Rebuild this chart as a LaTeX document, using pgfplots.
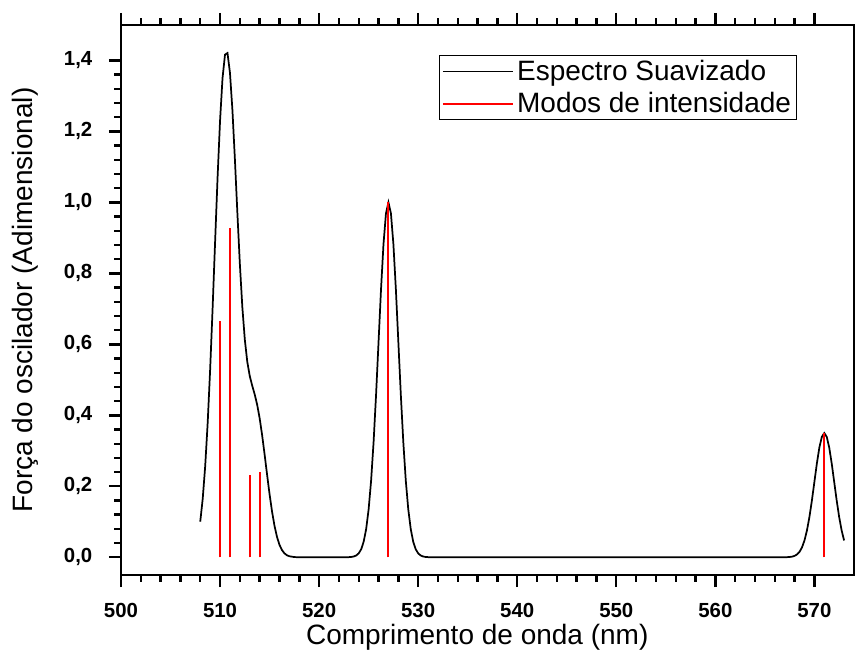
\documentclass[border=0pt]{standalone}
\usepackage{pgfplots}
\pgfplotsset{compat=1.18}
\usepackage{fontspec}
\setmainfont{Liberation Sans}
\begin{document}
\begin{tikzpicture}
\path[use as bounding box] (-90.75pt,-63.75pt) rectangle (550.5pt,431.25pt);
\begin{axis}[
  at={(0pt,0pt)}, anchor=south west,
  scale only axis, width=549.75pt, height=412.5pt,
  xmin=500, xmax=574, ymin=-0.05, ymax=1.5,
  xtick={500,510,520,530,540,550,560,570}, minor x tick num=4,
  ytick={0,0.2,0.4,0.6,0.8,1.0,1.2,1.4}, minor y tick num=4,
  tick align=outside,
  major tick length=9pt, minor tick length=5pt,
  axis line style={line width=1.6pt},
  every tick/.append style={black, line width=1.8pt},
  /pgf/number format/assume math mode=true,
  ticklabel style={font=\bfseries\fontsize{15.3pt}{17pt}\selectfont},
  yticklabel style={/pgf/number format/.cd, use comma, fixed, fixed zerofill, precision=1, /tikz/.cd, xshift=-9pt},
  xticklabel style={/pgf/number format/.cd, set thousands separator={}, /tikz/.cd, yshift=-9pt},
  xlabel={Comprimento de onda (nm)},
  ylabel={Força do oscilador (Adimensional)},
  every axis x label/.style={at={(axis description cs:0.486,-0.114)}, anchor=center,
    font=\fontsize{21pt}{24pt}\selectfont},
  every axis y label/.style={at={(axis description cs:-0.131,0.5)}, rotate=90, anchor=center,
    font=\fontsize{21pt}{24pt}\selectfont},
  legend style={at={(rel axis cs:0.922,0.945)}, anchor=north east, draw=black, line width=0.6pt,
    font=\fontsize{21pt}{24pt}\selectfont, inner xsep=2pt, inner ysep=1.5pt, row sep=3.5pt,
    /tikz/every odd column/.append style={column sep=0pt}},
  legend cell align=left,
]
\addplot[black, line width=1.3pt, no markers,
  legend image code/.code={\path (-7pt,0pt) -- (46pt,0pt); \draw[black,line width=1.3pt] (0pt,0pt) -- (46pt,0pt);}]
  coordinates {
(508,0.1003) (508.25,0.1650) (508.5,0.2567) (508.75,0.3783) (509,0.5290)
(509.25,0.7029) (509.5,0.8887) (509.75,1.0706) (510,1.2305) (510.25,1.3505)
(510.5,1.4165) (510.75,1.4211) (511,1.3654) (511.25,1.2596) (511.5,1.1207)
(511.75,0.9696) (512,0.8261) (512.25,0.7048) (512.5,0.6132) (512.75,0.5506)
(513,0.5106) (513.25,0.4832) (513.5,0.4588) (513.75,0.4295) (514,0.3913)
(514.25,0.3436) (514.5,0.2892) (514.75,0.2322) (515,0.1773) (515.25,0.1285)
(515.5,0.0882) (515.75,0.0572) (516,0.0351) (516.25,0.0203) (516.5,0.0111)
(516.75,0.0057) (517,0.0028) (517.5,0.0005) (518,0.0001) (519,0) (520,0) (521,0)
(522,0) (522.5,0.00004) (523,0.00034) (523.25,0.00088) (523.5,0.00219)
(523.75,0.00509) (524,0.01111) (524.25,0.02279) (524.5,0.04394) (524.75,0.07956)
(525,0.13534) (525.25,0.21627) (525.5,0.32465) (525.75,0.45783) (526,0.60653)
(526.25,0.75484) (526.5,0.88250) (526.75,0.96923) (527,1.0)
(527.25,0.96923) (527.5,0.88250) (527.75,0.75484) (528,0.60653) (528.25,0.45783)
(528.5,0.32465) (528.75,0.21627) (529,0.13534) (529.25,0.07956) (529.5,0.04394)
(529.75,0.02279) (530,0.01111) (530.25,0.00509) (530.5,0.00219) (530.75,0.00088)
(531,0.00034) (531.5,0.00004) (532,0) (540,0) (550,0) (560,0) (566,0)
(566.5,0.00001) (567,0.00012) (567.25,0.00031) (567.5,0.00077) (567.75,0.00178)
(568,0.00389) (568.25,0.00798) (568.5,0.01538) (568.75,0.02785) (569,0.04737)
(569.25,0.07569) (569.5,0.11363) (569.75,0.16024) (570,0.21229) (570.25,0.26419)
(570.5,0.30888) (570.75,0.33923) (571,0.35) (571.25,0.33923) (571.5,0.30888)
(571.75,0.26419) (572,0.21229) (572.25,0.16024) (572.5,0.11363) (572.75,0.07569)
(573,0.04737)
};
\addlegendentry{Espectro Suavizado}
\addplot[ycomb, red, line width=1.5pt, no markers,
  legend image code/.code={\path (-7pt,0pt) -- (46pt,0pt); \draw[red,line width=1.5pt] (0pt,0pt) -- (46pt,0pt);}]
  coordinates {(510,0.665) (511,0.928) (513,0.232) (514,0.240) (527,1.0) (571,0.35)};
\addlegendentry{Modos de intensidade}
\end{axis}
\end{tikzpicture}
\end{document}
